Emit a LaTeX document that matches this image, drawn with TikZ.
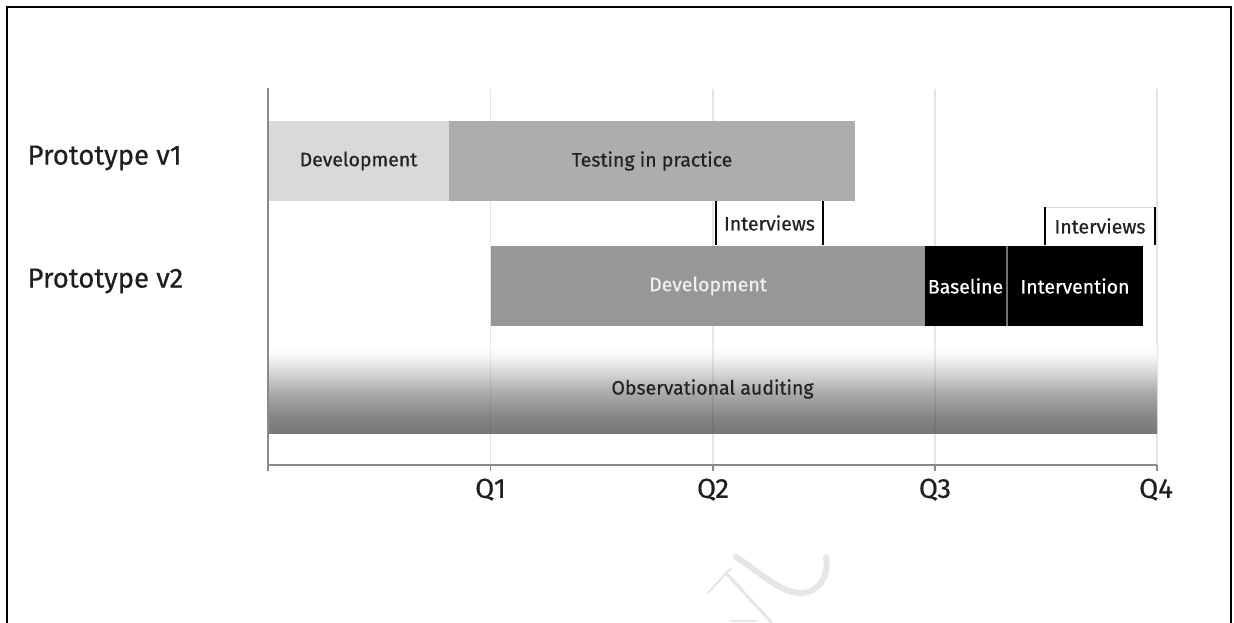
\documentclass[tikz,border=0pt]{standalone}
\usepackage{fontspec}
\setmainfont{Fira Sans}[FakeBold=0.5]
\definecolor{devlight}{HTML}{D9D9D9}
\definecolor{testgray}{HTML}{ADADAD}
\definecolor{devmid}{HTML}{979797}
\definecolor{gridgray}{HTML}{E4E4E4}
\definecolor{axisgray}{HTML}{8A8A8A}
\definecolor{inktext}{HTML}{222222}
\definecolor{markgray}{HTML}{E6E6E6}
% vertical shading of the auditing band: dark at the bottom, white at the top
\pgfdeclareverticalshading{obsgrad}{100bp}{%
  color(0bp)=(black!53); color(25bp)=(black!53); color(34bp)=(black!48);
  color(48bp)=(black!33); color(60bp)=(black!15); color(69bp)=(black!3);
  color(75bp)=(white); color(100bp)=(white)}
\begin{document}
\begin{tikzpicture}[x=1pt,y=-1pt,
  bartext/.style={font=\fontsize{19.5}{22}\selectfont},
  bigtext/.style={font=\fontsize{27.5}{30}\selectfont, text=black!88},
  bar/.style={anchor=north west, inner sep=0pt, outer sep=0pt, bartext},
  gridline/.style={draw=gridgray, line width=1.2pt},
  axisline/.style={draw=axisgray, line width=2pt},
  sideline/.style={draw=black, line width=2.2pt},
  tickmark/.style={draw=axisgray, line width=1.5pt}]
\useasboundingbox (0,0) rectangle (1234,623);

% frame
\draw[line width=2pt] (7,640) -- (7,7) -- (1231,7) -- (1231,640);

% quarter gridlines
\foreach \x/\n in {490.5/g1, 713/g2, 935/g3, 1157/g4}{
  \coordinate (\n top) at (\x,89);
  \coordinate (\n bot) at (\x,465);
  \draw[gridline] (\n top) -- (\n bot);
}

% row labels
\node[bigtext, anchor=west] (p1) at (24,158) {Prototype v1};
\node[bigtext, anchor=west] (p2) at (24,281) {Prototype v2};

% prototype v1
\node[bar, fill=devlight, text=inktext, minimum width=181pt, minimum height=80pt] (dev1) at (268,121) {Development};
\node[bar, fill=testgray, text=inktext, minimum width=406pt, minimum height=80pt] (test1) at (449,121) {Testing in practice};

% interviews after testing
\node[bar, minimum width=107pt, minimum height=44pt, text=inktext] (iv1) at (716,201) {\raisebox{-3pt}{Interviews}};
\draw[sideline] (iv1.north west) -- (iv1.south west);
\draw[sideline] (iv1.north east) -- (iv1.south east);

% prototype v2
\node[bar, fill=devmid, text=black!6, minimum width=434pt, minimum height=80pt] (dev2) at (491,246) {Development};
\node[bar, fill=black, text=white, minimum width=81pt, minimum height=80pt] (base) at (925,246) {Baseline};
\node[bar, fill=black, text=white, minimum width=136pt, minimum height=80pt] (interv) at (1007,246) {Intervention};
\draw[draw=black!55, line width=1.3pt] (interv.north west) -- (interv.south west);

% interviews after intervention
\node[bar, minimum width=110pt, minimum height=38pt, text=inktext] (iv2) at (1045,207) {\raisebox{-8pt}{Interviews}};
\draw[draw=black!15, line width=0.8pt] (iv2.north west) -- (iv2.north east);
\draw[sideline] (iv2.north west) -- (iv2.south west);
\draw[sideline] (iv2.north east) -- (iv2.south east);

% observational auditing band
\node[bar, shading=obsgrad, text=inktext, minimum width=889pt, minimum height=88pt] (obs) at (268,345) {};
\foreach \x in {490.5, 713, 935}{
  \draw[black, opacity=0.07, line width=1.2pt] (\x,345) -- (\x,433);
}
\node[bartext, text=inktext] (obst) at (obs.center) {Observational auditing};

% axes
\coordinate (origin) at (268,465);
\coordinate (ytop) at (268,88);
\coordinate (xend) at (1157,465);
\draw[axisline] (ytop) -- (origin) -- (xend);
\foreach \x in {268, 490.5, 713, 935, 1157}{
  \draw[tickmark] (\x,465) -- (\x,471);
}
\node[bigtext, anchor=north] (q1) at (490.5,475) {Q1};
\node[bigtext, anchor=north] (q2) at (713,475) {Q2};
\node[bigtext, anchor=north] (q3) at (935,475) {Q3};
\node[bigtext, anchor=north] (q4) at (1156,475) {Q4};

% faint watermark strokes
\draw[markgray, line width=6pt, line cap=round]
  (736,557) .. controls (762,574) and (782,594) .. (802,593)
  .. controls (820,592) and (829,575) .. (826,557);
\draw[markgray, line width=2pt] (731,568) -- (708,593);
\draw[markgray, line width=3pt] (725,572) -- (772,623);
\draw[markgray, line width=2pt] (730,621) -- (757,621);
\end{tikzpicture}
\end{document}
